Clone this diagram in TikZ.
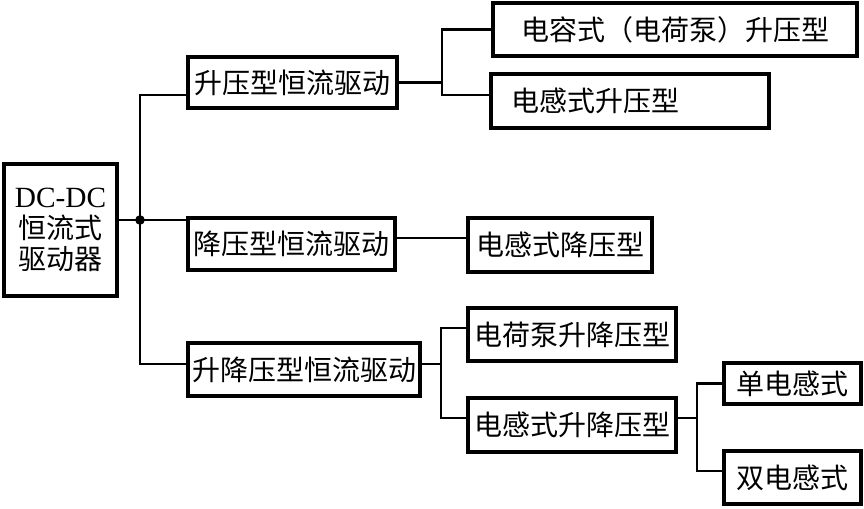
\documentclass[tikz,border=0pt]{standalone}
\usepackage{fontspec}
\setmainfont{Liberation Serif}
\newfontfamily\cjk{Noto Sans CJK SC}
\usetikzlibrary{calc}

\begin{document}
\begin{tikzpicture}
[x=0.75pt,y=-0.75pt,
  boxDecorate/.style={shape=rectangle,draw,line width=2.5pt,inner sep=0pt,
    font=\cjk\fontsize{21pt}{24pt}\selectfont},%
  lineDecorate/.style={-,line width=1.8pt}]
\useasboundingbox (0,0) rectangle (864,508);
%% root
\node (root) at (60.5,230) [boxDecorate,minimum width=113*0.75pt,
  minimum height=132*0.75pt,align=center]
  {{\rmfamily\fontsize{22pt}{24pt}\selectfont DC-DC}\\[-1pt]恒流式\\[-1pt]驱动器};
%% boxes
\foreach \nodename/\x/\y/\w/\h/\txt in {
  A/292.5/82.5/209/51/升压型恒流驱动,
  A1/675/29.5/364/53/电容式（电荷泵）升压型,
  B/291.5/244/207/52/降压型恒流驱动,
  B1/560/245/184/54/电感式降压型,
  C/304/369.5/232/53/升降压型恒流驱动,
  C1/572/334.5/208/53/电荷泵升降压型,
  C2/572/425/208/54/电感式升降压型,
  D1/792.5/383.5/137/41/单电感式,
  D2/792.5/477.5/137/53/双电感式} {
  \node (\nodename) at (\x,\y) [boxDecorate,minimum width=\w*0.75pt,
    minimum height=\h*0.75pt] {\txt};
}
\node (A2) at (630,101) [boxDecorate,minimum height=54*0.75pt,
  inner xsep=15pt,text width=178.5pt,align=left] {电感式升压型};
%% junctions
\coordinate (hub) at (140,220);
\coordinate (jA) at (442,82);
\coordinate (jC) at (441,364);
\coordinate (jD) at (697,418);
%% lines
\draw[lineDecorate] (root.east |- hub) -- (hub) -- (hub -| B.west);
\draw[lineDecorate] ([yshift=-9.4pt]A.west) -| (hub) |- ([yshift=4pt]C.west);
\fill (hub) circle (3.6pt);
\draw[lineDecorate] (A.east) -- (A.east -| jA);
\draw[lineDecorate] (A1.west) -| (jA) |- ([yshift=4.5pt]A2.west);
\draw[lineDecorate] ([yshift=4.5pt]B.east) -- ([yshift=4.5pt]B.east -| B1.west);
\draw[lineDecorate] (C.east |- jC) -- (jC);
\draw[lineDecorate] ([yshift=4.9pt]C1.west) -| (jC) |- ([yshift=5.25pt]C2.west);
\draw[lineDecorate] (C2.east |- jD) -- (jD);
\draw[lineDecorate] (D1.west) -| (jD) |- ([yshift=4.9pt]D2.west);
\end{tikzpicture}
\end{document}
